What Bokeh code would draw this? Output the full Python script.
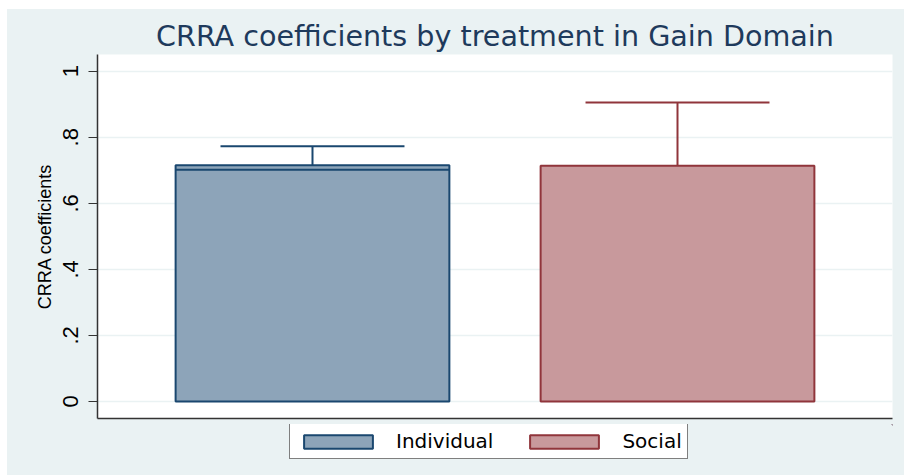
from bokeh.plotting import figure
from bokeh.layouts import column
from bokeh.models import ColumnDataSource, FixedTicker, Legend, LegendItem, Range1d
from bokeh.embed import file_html
from bokeh.resources import INLINE

# ---- data ----
treatments = ["Individual", "Social"]
means = [0.715, 0.714]
upper_ci = [0.773, 0.905]
individual_inner_line = [0.702]
y_ticks = [0, 0.2, 0.4, 0.6, 0.8, 1.0]
y_tick_labels = ["0", ".2", ".4", ".6", ".8", "1"]

fills = ["#8da4b9", "#c8999c"]
lines = ["#1a476f", "#90353b"]
BG = "#eaf2f3"

xs = [1, 2]
bar_w = 0.75
cap_w = 0.504

p = figure(width=897, height=415, output_backend="svg", toolbar_location=None,
           x_range=Range1d(0.411, 2.589), y_range=Range1d(-0.0515, 1.0506),
           min_border_left=90, min_border_right=12, min_border_top=45, min_border_bottom=6)
p.border_fill_color = BG
p.background_fill_color = "white"
p.outline_line_color = None

src = ColumnDataSource(dict(x=xs, top=means, upper=upper_ci, fill=fills, line=lines,
                            x0=[x - cap_w / 2 for x in xs], x1=[x + cap_w / 2 for x in xs]))

# error bars (upper half visible above the bars)
p.segment(x0="x", y0="top", x1="x", y1="upper", source=src, line_color="line", line_width=2)
p.segment(x0="x0", y0="upper", x1="x1", y1="upper", source=src, line_color="line", line_width=2)

for i, t in enumerate(treatments):
    p.vbar(x=[xs[i]], top=[means[i]], width=bar_w, bottom=0,
           fill_color=fills[i], line_color=lines[i], line_width=2)

# inner line on the Individual bar
p.segment(x0=[xs[0] - bar_w / 2], y0=individual_inner_line,
          x1=[xs[0] + bar_w / 2], y1=individual_inner_line,
          line_color=lines[0], line_width=2)

# title
p.title.text = "CRRA coefficients by treatment in Gain Domain"
p.title.text_font = "DejaVu Sans"
p.title.text_font_size = "28.6px"
p.title.text_font_style = "normal"
p.title.text_color = "#1e3a5c"
p.title.align = "center"
p.title.standoff = 4

# y axis
ya = p.yaxis[0]
ya.ticker = FixedTicker(ticks=y_ticks)
ya.major_label_overrides = {t: l for t, l in zip(y_ticks, y_tick_labels)}
ya.major_label_orientation = "vertical"
ya.major_label_text_font = "Liberation Sans"
ya.major_label_text_font_size = "22px"
ya.major_label_text_color = "black"
ya.major_label_standoff = 10
ya.major_tick_out = 9
ya.major_tick_in = 0
ya.minor_tick_out = 0
ya.minor_tick_in = 0
ya.major_tick_line_color = "#333333"
ya.axis_line_color = "#333333"
ya.axis_line_width = 1.5
ya.axis_label = "CRRA coefficients"
ya.axis_label_text_font = "Liberation Sans"
ya.axis_label_text_font_size = "18px"
ya.axis_label_text_font_style = "normal"
ya.axis_label_text_color = "black"
ya.axis_label_standoff = 6

# x axis: line only
xa = p.xaxis[0]
xa.ticker = FixedTicker(ticks=[0])
xa.major_tick_out = 0
xa.major_tick_in = 0
xa.minor_tick_out = 0
xa.minor_tick_in = 0
xa.major_label_overrides = {0: ""}
xa.major_label_text_font_size = "4px"
xa.major_label_standoff = 0
xa.axis_line_color = "#333333"
xa.axis_line_width = 1.5

p.xgrid.grid_line_color = None
p.ygrid.ticker = FixedTicker(ticks=y_ticks)
p.ygrid.grid_line_color = BG
p.ygrid.grid_line_width = 1.5

# legend strip below the plot (frame aligned with the main plot)
q = figure(width=897, height=51, output_backend="svg", toolbar_location=None,
           x_axis_location=None, y_axis_location=None,
           x_range=Range1d(0, 1), y_range=Range1d(0, 1),
           min_border_left=0, min_border_right=0, min_border_top=0, min_border_bottom=0)
q.border_fill_color = BG
q.background_fill_color = None
q.outline_line_color = None
q.xgrid.visible = False
q.ygrid.visible = False

legend_renderers = []
for i, t in enumerate(treatments):
    # single hidden point far outside the visible ranges, only used by the legend swatch
    r = q.vbar(x=[50], top=[60], width=bar_w, bottom=55,
               fill_color=fills[i], line_color=lines[i], line_width=2)
    legend_renderers.append(r)

legend = Legend(items=[LegendItem(label=t, renderers=[r]) for t, r in zip(treatments, legend_renderers)],
                orientation="horizontal", location=(192, 16))
legend.glyph_width = 86
legend.glyph_height = 17
legend.label_height = 17
legend.label_standoff = 15
legend.spacing = 28
legend.padding = 5
legend.margin = 0
legend.label_text_font = "DejaVu Sans"
legend.label_text_font_size = "20px"
legend.label_text_color = "black"
legend.border_line_color = "black"
legend.border_line_width = 1
legend.background_fill_color = "white"
legend.background_fill_alpha = 1
q.add_layout(legend, "center")

layout = column(p, q, spacing=0, margin=(9, 0, 0, 7), styles={"background-color": BG})
open("out.html", "w").write(file_html(layout, INLINE))
